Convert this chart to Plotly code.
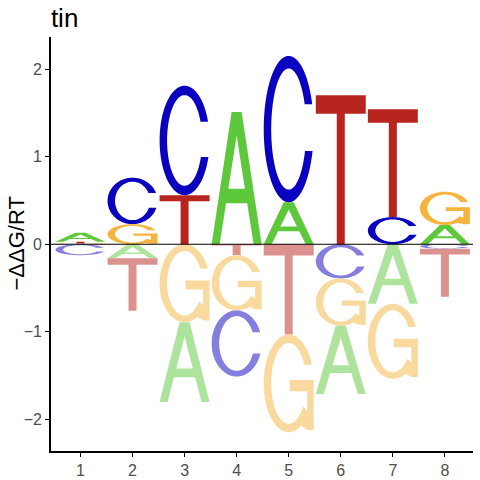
import numpy as np
import plotly.graph_objects as go

# energy logo values per position (ddG/RT)
positions = [1, 2, 3, 4, 5, 6, 7, 8]
val_A = [0.10, -0.16, -0.91, 1.51, 0.48, -0.78, -0.68, 0.22]
val_C = [-0.125, 0.53, 1.25, -0.755, 1.67, -0.39, 0.31, -0.05]
val_G = [0.01, 0.23, -0.89, -0.63, -1.115, -0.54, -0.855, 0.38]
val_T = [0.02, -0.60, 0.56, -0.125, -1.03, 1.70, 1.23, -0.55]
tick_y = [-2, -1, 0, 1, 2]
title_text = "tin"
ylab = "\u2212\u0394\u0394G/RT"

cols = {"A": "#5DC83C", "C": "#0A00C0", "G": "#F6B43E", "T": "#B8241E"}
letter_w = 0.96


def ell(cx, cy, rx, ry, a0, a1, n=60):
    t = np.linspace(a0, a1, n)
    return list(zip(cx + rx * np.cos(t), cy + ry * np.sin(t)))


def glyph(ch):
    # unit-box outlines (x, y in 0..1), list of closed rings
    if ch == "T":
        return [[(0, 1), (1, 1), (1, 0.876), (0.58, 0.876), (0.58, 0),
                 (0.42, 0), (0.42, 0.876), (0, 0.876)]]
    if ch == "A":
        ap = 0.82
        li = lambda y: 0.16 + (0.5 - 0.16) * y / ap
        ri = lambda y: 0.84 - (0.84 - 0.5) * y / ap
        outer = [(0, 0), (0.40, 1), (0.60, 1), (1, 0), (0.84, 0),
                 (ri(0.31), 0.31), (li(0.31), 0.31), (0.16, 0)]
        hole = [(li(0.42), 0.42), (ri(0.42), 0.42), (0.5, ap)]
        return [outer, hole]
    rxo, ryo, rxi, ryi = 0.5, 0.5, 0.35, 0.414
    if ch == "C":
        t1 = np.arcsin(0.17 / ryo); p1 = np.arcsin(0.17 / ryi)
        t2 = np.arcsin(-0.15 / ryo); p2 = np.arcsin(-0.15 / ryi)
        pts = ell(0.5, 0.5, rxo, ryo, t1, 2 * np.pi + t2, 90)
        pts += ell(0.5, 0.5, rxi, ryi, 2 * np.pi + p2, p1, 90)
        return [pts]
    if ch == "G":
        t1 = np.arcsin(0.19 / ryo); p1 = np.arcsin(0.19 / ryi)
        pts = ell(0.5, 0.5, rxo, ryo, t1, np.radians(300), 90)
        pts += [(0.88, 0.022), (1.0, 0.022), (1.0, 0.535), (0.52, 0.535),
                (0.52, 0.42), (0.87, 0.42), (0.87, 0.22)]
        pts += ell(0.5, 0.5, rxi, ryi, np.radians(325), p1, 90)
        return [pts]


def letter_path(ch, xc, y0, y1):
    x0 = xc - letter_w / 2
    d = ""
    for ring in glyph(ch):
        for i, (u, v) in enumerate(ring):
            d += ("M" if i == 0 else "L") + "%.4f,%.4f" % (x0 + u * letter_w, y0 + v * (y1 - y0))
        d += "Z"
    return d


def faded(hx):
    r, g, b = int(hx[1:3], 16), int(hx[3:5], 16), int(hx[5:7], 16)
    return "rgb(%d,%d,%d)" % ((r + 255) // 2, (g + 255) // 2, (b + 255) // 2)


vals = {"A": val_A, "C": val_C, "G": val_G, "T": val_T}
shapes = []
for i, p in enumerate(positions):
    col = [(ch, vals[ch][i]) for ch in "ACGT"]
    pos = sorted([c for c in col if c[1] > 0], key=lambda c: c[1])
    neg = sorted([c for c in col if c[1] < 0], key=lambda c: -c[1])
    base = 0.0
    for ch, v in pos:
        shapes.append(dict(type="path", path=letter_path(ch, p, base, base + v),
                           xref="x", yref="y", fillcolor=cols[ch], line=dict(width=0)))
        base += v
    base = 0.0
    for ch, v in neg:
        shapes.append(dict(type="path", path=letter_path(ch, p, base + v, base),
                           xref="x", yref="y", fillcolor=faded(cols[ch]), line=dict(width=0)))
        base += v

shapes.append(dict(type="line", xref="paper", yref="y", x0=0, x1=1, y0=0, y1=0,
                   line=dict(color="black", width=1)))

fig = go.Figure()
fig.add_trace(go.Scatter(x=positions, y=[0] * len(positions), mode="markers",
                         marker=dict(opacity=0), hoverinfo="skip", showlegend=False))
fig.update_layout(
    width=480, height=480,
    margin=dict(l=51, r=7, t=37, b=29, autoexpand=False),
    paper_bgcolor="white", plot_bgcolor="white",
    shapes=shapes,
    showlegend=False,
    font=dict(family="Liberation Sans, Arial, sans-serif"),
    title=dict(text=title_text, x=0.106, xanchor="left", y=0.962, yanchor="middle",
               font=dict(size=26, color="black")),
    annotations=[dict(text=ylab, xref="paper", yref="paper", x=-0.084, y=0.5,
                      xanchor="center", yanchor="middle", textangle=-90, showarrow=False,
                      font=dict(size=22, color="black"))],
)
fig.update_xaxes(range=[0.434, 8.54], tickvals=positions, showgrid=False, zeroline=False,
                 showline=True, linecolor="black", linewidth=1.6, ticks="outside",
                 ticklen=4, tickcolor="black", automargin=False,
                 tickfont=dict(size=16, color="#4D4D4D"))
fig.update_yaxes(range=[-2.36, 2.366], tickvals=tick_y, showgrid=False, zeroline=False,
                 showline=True, linecolor="black", linewidth=1.6, ticks="outside",
                 ticklen=4, tickcolor="black", automargin=False,
                 tickfont=dict(size=16, color="#4D4D4D"))
fig.write_html("out.html", config={"displayModeBar": False},
               post_script="document.body.style.margin='0';")
